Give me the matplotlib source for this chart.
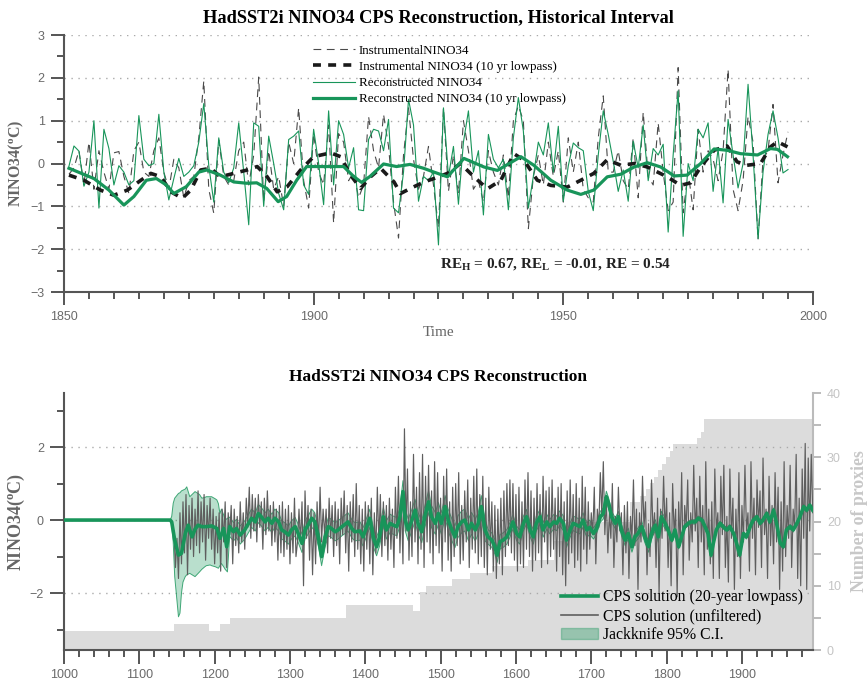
import numpy as np
import matplotlib
matplotlib.use("Agg")
import matplotlib.pyplot as plt
from matplotlib.lines import Line2D
from matplotlib.patches import Patch

plt.rcParams["font.family"] = "Liberation Sans"
plt.rcParams["mathtext.default"] = "regular"

SERIF = "Liberation Serif"
GREEN = "#18955a"
SPINE = "#555555"
TICKLAB = "#6a6a6a"
GRID = "#aaaaaa"

# ---- historical interval (annual values) ----
hist_years = np.arange(1851, 1996)
recon = [
    -0.06, 0.41, 0.29, -0.53, -0.2, 1.0, -1.04, 0.8, 0.35, -0.5,
    -0.05, -0.2, -0.5, -0.4, 1.12, 0.1, -0.05, 0.0, 1.15, -0.2,
    -0.85, -0.35, 0.12, -0.3, -0.2, -0.05, 0.5, 1.4, -0.05, -0.9,
    0.6, -0.2, -0.45, -0.1, 0.95, -0.2, -1.43, 0.95, 0.87, -1.0,
    0.64, 0.0, -0.7, -1.08, 0.56, 0.64, 0.76, -0.5, -0.72, 0.8,
    0.0, -0.96, 1.23, -0.5, 1.0, 0.68, -0.1, 0.37, -1.08, -1.1,
    0.56, 0.8, 0.76, 0.3, 1.03, -1.04, -1.15, -0.2, 1.5, 0.9,
    -0.88, -0.3, -0.4, -0.2, -1.9, 1.3, -0.3, 0.4, -0.95, 0.5,
    1.23, -0.2, 0.3, -1.2, 0.68, 0.1, -0.1, 0.1, -1.08, 0.6,
    1.54, 0.76, -1.04, -0.3, 0.5, 0.2, 0.95, -0.2, 0.87, -0.88,
    -0.05, 0.48, 0.37, 0.3, -0.65, -1.1, 0.2, 1.23, 0.68, 0.05,
    -0.65, -0.15, -0.88, 0.52, -0.1, 0.9, -0.4, 0.35, 0.2, 0.45,
    -1.6, 0.2, 1.7, -1.7, 0.0, -0.4, 0.8, 0.6, 0.95, -0.65,
    0.35, -0.92, 1.03, 0.2, -0.57, 0.0, 1.85, 0.2, -1.75, -0.2,
    0.68, 1.23, 0.6, -0.22, -0.14,
]
instr = [
    -0.25, -0.1, 0.3, -0.5, 0.5, -0.6, 0.3, -0.2, -0.6, 0.25,
    0.28, -0.3, -0.7, 0.3, 0.5, -0.2, -0.3, 0.3, 0.6, -0.2,
    -0.6, 0.1, -0.1, -0.8, -0.4, -0.3, 0.6, 1.93, -0.6, -1.16,
    0.55, -0.3, -0.5, -0.4, 0.3, 0.5, -0.5, 0.2, 2.02, -0.9,
    0.3, -0.6, -0.3, -1.0, 0.5, 0.0, 1.3, -0.4, -1.04, 0.7,
    -0.2, -0.5, 0.9, -1.39, 0.7, 0.5, -0.4, -0.2, -0.8, -0.5,
    1.1, 0.3, -0.1, 1.15, 0.4, -0.9, -1.74, 0.2, 1.3, 0.1,
    -0.6, -0.3, 0.4, -0.5, -1.5, 1.3, -0.65, 0.2, -0.7, 1.0,
    0.3, -0.6, -0.4, -0.9, 0.3, -0.2, -0.5, 0.2, -0.8, 1.0,
    1.35, 1.0, -1.52, -0.3, 0.2, -0.5, 0.5, -0.3, 0.3, -0.9,
    0.6, -0.2, 0.5, -0.6, -0.8, -0.9, 0.6, 1.58, -0.2, -0.2,
    0.3, -0.4, -0.6, 0.6, -0.8, 1.2, -0.3, -0.5, 0.95, -0.2,
    -1.1, -0.9, 2.24, -1.15, -0.2, -1.08, 0.8, -0.2, 0.3, 0.1,
    -0.4, 0.3, 2.2, -0.6, -1.1, -0.4, 1.1, 0.5, -1.78, 0.1,
    0.3, 1.38, -0.45, 0.2, 0.74,
]

recon_lp_years = [
    1851, 1856, 1859, 1862, 1864, 1866.5, 1868.5, 1870.5, 1872, 1874.5,
    1877, 1878.6, 1881.3, 1884, 1886.6, 1888.6, 1890.6, 1892.9, 1894.6, 1896.6,
    1898.6, 1901.3, 1906, 1908, 1909.6, 1911.3, 1914, 1916.6, 1919.3, 1922,
    1924.1, 1926.8, 1930.1, 1934.1, 1936.8, 1941.5, 1944.1, 1947.5, 1950.8, 1953.5,
    1956.1, 1958.8, 1961.5, 1964.2, 1966.8, 1969.5, 1972.2, 1974.8, 1977.5, 1980.2,
    1982.8, 1985.5, 1988.9, 1991.5, 1992.9, 1994.9,
]
recon_lp = [
    -0.11, -0.35, -0.62, -0.97, -0.77, -0.39, -0.35, -0.5, -0.7, -0.54,
    -0.2, -0.15, -0.27, -0.43, -0.46, -0.45, -0.58, -0.89, -0.77, -0.39,
    -0.07, -0.07, -0.07, -0.3, -0.44, -0.3, -0.01, -0.07, -0.02, -0.11,
    -0.2, -0.31, 0.12, -0.08, -0.16, 0.16, -0.04, -0.39, -0.62, -0.72,
    -0.62, -0.31, -0.25, -0.08, 0.02, -0.08, -0.29, -0.27, 0.0, 0.34,
    0.31, 0.23, 0.2, 0.35, 0.33, 0.16,
]
instr_lp_years = [
    1851, 1854, 1857.3, 1860, 1862.7, 1865.4, 1867.4, 1869.4, 1871.4, 1873.7,
    1875.4, 1877.4, 1879.4, 1881.3, 1884, 1886.7, 1888.7, 1890.7, 1892.7, 1894.7,
    1897.4, 1900, 1903.4, 1905.4, 1907.4, 1909.4, 1911.4, 1913.4, 1916.1, 1917.4,
    1919.4, 1922.1, 1924.1, 1926.8, 1929.4, 1932.1, 1934.8, 1937.5, 1940.1, 1942.1,
    1944.8, 1947.5, 1950.8, 1953.5, 1956.1, 1958.8, 1961.5, 1964.2, 1966.8, 1970.8,
    1973.5, 1975.5, 1977.5, 1980.2, 1982.8, 1984.8, 1986.8, 1989.5, 1991.5, 1992.9,
    1994.9,
]
instr_lp = [
    -0.27, -0.39, -0.62, -0.74, -0.62, -0.39, -0.23, -0.31, -0.66, -0.81,
    -0.62, -0.15, -0.11, -0.31, -0.23, -0.15, -0.07, -0.31, -0.66, -0.54,
    -0.15, 0.16, 0.25, 0.16, -0.27, -0.58, -0.31, -0.11, -0.43, -0.7,
    -0.58, -0.43, -0.35, -0.23, 0.0, -0.31, -0.59, -0.39, 0.23, 0.08,
    -0.39, -0.51, -0.55, -0.39, -0.23, 0.09, -0.04, 0.0, -0.08, -0.31,
    -0.51, -0.45, -0.08, 0.31, 0.41, 0.04, -0.04, 0.0, 0.39, 0.51,
    0.39,
]

# ---- full reconstruction ----
cps_lp_years = [
    1000, 1141, 1143, 1147, 1152, 1156, 1161, 1165, 1170, 1174,
    1178, 1183, 1189, 1196, 1203, 1207, 1212, 1216, 1220, 1225,
    1229, 1234, 1240, 1245, 1249, 1254, 1258, 1262, 1267, 1271,
    1276, 1280, 1285, 1289, 1293, 1298, 1302, 1307, 1311, 1316,
    1320, 1324, 1329, 1333, 1338, 1342, 1347, 1351, 1355, 1360,
    1364, 1369, 1373, 1377, 1382, 1386, 1393, 1397, 1402, 1406,
    1411, 1415, 1419, 1424, 1428, 1433, 1437, 1442, 1446, 1450,
    1453, 1457, 1462, 1466, 1470, 1475, 1479, 1484, 1488, 1493,
    1497, 1501, 1506, 1510, 1515, 1519, 1523, 1528, 1532, 1537,
    1541, 1546, 1550, 1554, 1559, 1563, 1568, 1572, 1575, 1579,
    1583, 1588, 1592, 1596, 1601, 1605, 1610, 1614, 1619, 1623,
    1627, 1632, 1636, 1641, 1645, 1650, 1654, 1658, 1663, 1667,
    1672, 1676, 1681, 1685, 1689, 1694, 1698, 1703, 1707, 1712,
    1716, 1720, 1723, 1727, 1732, 1736, 1740, 1745, 1749, 1754,
    1758, 1762, 1767, 1771, 1776, 1780, 1785, 1789, 1793, 1798,
    1802, 1807, 1811, 1816, 1820, 1824, 1829, 1833, 1838, 1842,
    1847, 1851, 1855, 1859, 1862, 1866, 1871, 1875, 1880, 1884,
    1889, 1893, 1897, 1902, 1906, 1911, 1915, 1920, 1924, 1928,
    1933, 1937, 1942, 1946, 1951, 1955, 1959, 1964, 1968, 1973,
    1977, 1982, 1986, 1990, 1994,
]
cps_lp = [
    0, 0, -0.05, -0.55, -0.96, -0.91, -0.37, -0.14, -0.46, -0.25,
    -0.14, -0.18, -0.18, -0.16, -0.23, -0.5, -0.23, -0.73, -0.18, -0.32,
    -0.23, -0.41, -0.27, -0.09, 0.05, -0.05, 0.18, 0.09, -0.05, 0.05,
    -0.09, 0.05, -0.05, -0.27, -0.32, -0.41, -0.27, -0.18, -0.37, -0.64,
    -0.27, -0.14, 0.05, -0.05, -0.5, -1.0, -0.46, -0.18, -0.23, -0.32,
    -0.27, -0.18, -0.12, -0.05, -0.23, -0.32, -0.3, -0.46, -0.18, 0.05,
    -0.5, -0.73, -0.46, 0.09, -0.27, -0.09, -0.14, -0.18, 0.09, 0.78,
    0.0, -0.27, 0.0, 0.27, -0.09, -0.32, 0.09, 0.5, 0.09, -0.09,
    0.18, -0.09, 0.37, 0.0, -0.27, -0.46, -0.18, -0.05, 0.0, -0.27,
    -0.09, -0.27, -0.09, 0.37, -0.27, -0.46, -0.55, -0.73, -0.96, -0.59,
    -0.55, -0.46, -0.27, -0.05, -0.37, -0.46, -0.09, 0.09, -0.27, -0.46,
    -0.09, 0.09, -0.27, -0.05, -0.18, -0.05, -0.09, 0.05, -0.09, -0.55,
    -0.27, -0.09, -0.14, -0.18, 0.0, -0.27, -0.2, -0.37, -0.23, 0.09,
    0.18, 0.64, 0.46, 0.09, -0.09, 0.09, -0.27, -0.55, -0.37, -0.73,
    -0.46, -0.37, -0.18, -0.46, -0.73, -0.37, -0.14, -0.46, 0.09, -0.09,
    -0.27, -0.55, -0.27, -0.73, -0.46, -0.18, -0.09, -0.05, -0.05, 0.05,
    0.0, -0.18, -0.37, -0.96, -0.64, -0.27, -0.09, -0.18, -0.27, -0.18,
    -0.37, -0.64, -0.96, -0.37, -0.46, -0.18, 0.0, 0.09, -0.09, 0.0,
    0.18, -0.05, 0.27, -0.09, -0.64, -0.73, -0.27, -0.18, -0.27, -0.09,
    0.09, 0.37, 0.27, 0.41, 0.27,
]

# unfiltered solution, every second year from 1146 to 1994
cps_raw_years = np.arange(1146, 1995, 2)
cps_raw = [
    -0.3, -1.3, -0.5, -1.6, 0.2, -1.2, 0.5, -0.9, 0.7, -1.5, 0.4, -0.8, 0.6, -1.0, 0.3, -0.7, 0.8, -0.9, 0.5, -0.6, 0.7, -1.1, 0.4, -0.5, 0.6,
    -0.8, 0.3, -1.2, 0.1, -0.9, 0.2, -1.4, 0.3, -0.6, 0.5, -1.3, 0.2, -0.4, 0.4, -1.2, 0.3, -0.7, 0.1, -0.9, 0.5, -0.6, 0.2, -0.8, 0.6, -0.2,
    0.9, -0.5, 0.7, -0.3, 0.6, -0.6, 0.7, -0.2, 0.5, -0.8, 0.6, -0.4, 0.8, -0.3, 0.4, -0.7, 0.5, -0.6, 0.3, -1.1, 0.4, -0.9, 0.5, -1.0, 0.3,
    -0.8, 0.4, -1.2, 0.2, -0.9, 0.6, -1.0, -0.6, 0.3, -0.6, 0.5, -1.8, 0.8, -0.5, 0.4, -1.1, 0.3, -1.5, 0.2, -1.2, 0.5, -0.7, 0.9, -0.6, 0.3,
    -0.4, 0.3, -0.9, 0.6, -0.5, 0.4, -1.0, 0.5, -0.7, 0.3, -1.2, 0.6, -0.4, 0.8, -0.9, 0.4, -1.4, 0.5, -0.6, 0.7, -1.0, 1.0, -0.8, 0.4, -1.2,
    0.3, -1.4, 0.5, -0.8, 0.4, -1.2, 0.6, -1.5, 0.2, -0.9, 0.9, -0.6, 0.7, -1.0, 0.5, -0.7, 0.4, -1.1, 0.6, -0.8, 0.3, -1.3, 0.9, -0.5, 1.2,
    -0.9, 0.6, -1.2, 2.5, -0.3, 1.4, -1.1, 0.5, -1.0, 1.8, -0.6, 0.9, -1.2, 1.3, -0.8, 1.8, -1.3, 1.2, -0.6, 1.5, -0.9, 0.8, -1.2, 1.6, -0.7,
    1.3, -0.9, 0.6, -1.4, 1.2, -0.6, 1.4, -1.1, 0.5, -1.4, 0.9, -1.0, 1.0, -0.7, 1.3, -1.2, 0.4, -1.1, 0.8, -0.6, 1.1, -1.3, 0.6, -0.8, 1.2,
    -0.9, 1.4, -1.2, 0.7, -1.0, 1.2, -1.3, 0.6, -1.5, 0.9, -0.8, 0.5, -1.4, 0.4, -1.6, 0.3, -1.2, 0.6, -1.5, 0.8, -1.0, 1.0, -0.7, 1.1, -0.9,
    1.0, -1.1, 0.7, -1.4, 0.9, -1.2, 0.5, -1.3, 1.1, -0.8, 1.3, -1.0, 0.8, -1.4, 0.6, -1.1, 1.0, -0.9, 0.7, -1.3, 1.2, -0.6, 0.8, -1.2, 0.9,
    -1.0, 1.1, -0.8, 0.6, -1.4, 0.9, -1.0, 1.0, -1.5, 0.5, -1.8, 0.8, -1.2, 1.1, -0.9, 0.7, -1.3, 1.0, -1.1, 0.6, -1.4, 1.2, -0.8, 0.9, -1.2,
    0.5, -0.8, 0.2, -0.4, 0.9, -1.2, 0.3, -0.2, 1.3, 0.1, 1.6, -0.4, 0.6, -0.9, 0.2, -0.5, 1.0, -1.3, 0.1, -0.6, 0.9, -0.3, 0.2, -1.5, 0.4,
    -0.9, 0.5, -1.6, 0.1, -0.5, 1.1, -0.7, 0.3, -1.9, 0.2, -0.6, 1.2, -0.2, 0.5, -1.5, -0.1, -1.0, 1.1, -0.4, 0.2, -1.3, 0.6, -2.0, 0.3, -0.5,
    1.2, -0.3, 0.6, -1.3, 0.2, -1.8, 1.0, -0.4, 0.3, -2.1, 0.5, -0.7, 1.3, -1.5, 0.4, -0.2, 1.1, -1.1, 0.2, -0.6, 1.5, -0.3, 0.6, -1.3, 1.2,
    -0.6, 0.4, -1.5, 1.6, -0.8, 0.3, -1.2, 0.5, -1.6, 1.4, -0.3, 0.2, -1.6, 1.2, -0.4, 1.5, -1.3, 0.1, -1.7, 1.4, -0.5, 0.6, -1.9, 0.3, -1.0,
    1.3, -1.6, 0.4, -0.6, 1.5, -0.3, 0.2, -1.4, 1.6, -0.5, 0.6, -1.5, 1.1, -0.2, 0.8, -1.3, 1.7, -0.4, 0.3, -1.6, 1.2, -0.7, 0.4, -1.2, 1.3,
    -0.6, 0.9, -1.9, 0.5, -1.4, 1.6, -1.0, 0.4, -0.5, 1.5, -1.3, 0.3, -0.2, 1.8, -1.6, 0.6, -1.8, 1.4, -0.5, 2.1, -1.9, 1.7, -0.3, 1.8, 0.2,
]

# jackknife interval: explicit bounds where it is wide, half-widths by period afterwards
ci_early_years = [1141, 1143, 1145, 1147, 1152, 1154, 1156, 1158, 1161, 1163,
                  1167, 1174, 1180, 1183, 1187, 1189, 1194, 1196, 1201, 1203,
                  1205, 1207, 1209, 1212, 1214, 1217, 1220]
ci_early_hi = [0, 0.1, 0.46, 0.6, 0.73, 0.75, 0.8, 0.82, 0.85, 0.91,
               0.64, 0.78, 0.7, 0.6, 0.62, 0.64, 0.64, 0.64, 0.58, 0.55,
               0.45, 0.18, 0.3, 0.14, 0.0, 0.05, 0.08]
ci_early_lo = [0, -0.1, -0.6, -1.55, -2.65, -2.55, -2.0, -1.7, -1.55, -1.5,
               -1.46, -1.55, -1.42, -1.35, -1.28, -1.25, -1.23, -1.25, -1.28, -1.3,
               -1.32, -1.25, -1.19, -1.28, -1.35, -1.42, -0.45]
ci_period_start = [1220, 1450, 1560, 1700, 1800]
ci_half_width = [0.25, 0.3, 0.2, 0.15, 0.06]

# number of proxies available (step changes)
proxy_years = [1000, 1146, 1192, 1207, 1221, 1375, 1464, 1472, 1480, 1515,
               1539, 1568, 1616, 1650, 1668, 1751, 1765, 1772, 1778, 1783,
               1789, 1794, 1799, 1804, 1808, 1840, 1845, 1850, 1995]
proxy_counts = [3, 4, 3, 4, 5, 7, 6, 9, 10, 11,
                12, 13, 14, 17, 20, 23, 24, 25, 26, 27,
                28, 29, 30, 31, 32, 33, 34, 36, 36]


def style_axes(ax, major_len):
    for s in ["top", "right"]:
        ax.spines[s].set_visible(False)
    for s in ["left", "bottom"]:
        ax.spines[s].set_color(SPINE)
        ax.spines[s].set_linewidth(1.5)
    ax.tick_params(which="major", direction="out", length=major_len, width=1.4,
                   color=SPINE, labelcolor=TICKLAB, labelsize=9, pad=4.5)
    ax.tick_params(which="minor", direction="out", length=5, width=1.4, color=SPINE)
    ax.yaxis.grid(True, which="major", color=GRID, linestyle=(0, (1, 4)), linewidth=1)
    ax.set_axisbelow(True)


fig = plt.figure(figsize=(8.68, 6.82), dpi=100)

# ---------------- top: historical interval ----------------
ax1 = fig.add_axes([0.0737, 0.5718, 0.8629, 0.3768])
ax1.plot(hist_years, instr, color="#4a4a4a", lw=0.8, dashes=(7, 5), zorder=2,
         label="InstrumentalNINO34")
ax1.plot(hist_years, recon, color=GREEN, lw=0.8, zorder=3, label="Reconstructed NINO34")
ax1.plot(instr_lp_years, instr_lp, color="#1a1a1a", lw=2.6, dashes=(2.2, 2), zorder=4,
         label="Instrumental NINO34 (10 yr lowpass)")
ax1.plot(recon_lp_years, recon_lp, color=GREEN, lw=2.3, zorder=5,
         label="Reconstructed NINO34 (10 yr lowpass)")

ax1.set_xlim(1850, 2000)
ax1.set_ylim(-3, 3)
ax1.set_xticks([1850, 1900, 1950, 2000])
ax1.set_xticks(np.arange(1850, 2001, 5), minor=True)
ax1.set_yticks(np.arange(-3, 4, 1))
ax1.set_yticks(np.arange(-3, 3.01, 0.5), minor=True)
style_axes(ax1, 9.4)

ax1.set_title("HadSST2i NINO34 CPS Reconstruction, Historical Interval",
              fontfamily=SERIF, fontweight="bold", fontsize=13.2, pad=9)
ax1.set_xlabel("Time", fontfamily=SERIF, fontsize=11, color="#666666", labelpad=2)
ax1.set_ylabel(r"NINO34($^{o}$C)", fontfamily=SERIF, fontweight="bold",
               fontsize=11.5, color="#666666")
ax1.yaxis.set_label_coords(-0.051, 0.5)

h = ax1.get_legend_handles_labels()[0]
order = [0, 2, 1, 3]
ax1.legend([h[i] for i in order],
           ["InstrumentalNINO34", "Instrumental NINO34 (10 yr lowpass)",
            "Reconstructed NINO34", "Reconstructed NINO34 (10 yr lowpass)"],
           loc="upper left", bbox_to_anchor=(0.333, 0.962), frameon=False,
           prop={"family": SERIF, "size": 9.4}, handlelength=3.2, handletextpad=0.3,
           labelspacing=0.3, borderpad=0, borderaxespad=0)

ax1.text(1925.3, -2.35, r"RE$_{H}$ = 0.67, RE$_{L}$ = -0.01, RE = 0.54",
         fontfamily=SERIF, fontweight="bold", fontsize=11, va="center", ha="left",
         color="#222222")

# ---------------- bottom: full reconstruction ----------------
ax2 = fig.add_axes([0.0737, 0.0469, 0.8629, 0.3768])
axp = ax2.twinx()

axp.fill_between(proxy_years, proxy_counts, step="post", color="#dcdcdc", lw=0)
axp.set_ylim(0, 40)
axp.set_yticks([0, 10, 20, 30, 40])
axp.set_yticks([5, 15, 25, 35], minor=True)
for s in ["top", "left", "bottom"]:
    axp.spines[s].set_visible(False)
axp.spines["right"].set_color("#bbbbbb")
axp.spines["right"].set_linewidth(1.5)
axp.tick_params(which="both", direction="out", length=6, width=1.4, color="#bbbbbb",
                labelcolor="#c4c4c4", labelsize=9, pad=4)
axp.set_ylabel("Number of proxies", fontfamily=SERIF, fontweight="bold", fontsize=12.8,
               color="#c8c8c8", rotation=90)
axp.yaxis.set_label_coords(1.051, 0.5)

ax2.set_zorder(axp.get_zorder() + 1)
ax2.patch.set_visible(False)

lp_y = np.array(cps_lp_years, dtype=float)
lp_v = np.array(cps_lp)
late = lp_y > 1220
half = np.array(ci_half_width)[np.searchsorted(ci_period_start, lp_y[late], side="right") - 1]
band_x = np.concatenate([ci_early_years, lp_y[late]])
band_hi = np.concatenate([ci_early_hi, lp_v[late] + half])
band_lo = np.concatenate([ci_early_lo, lp_v[late] - half])

ax2.fill_between(band_x, band_lo, band_hi, facecolor=GREEN, alpha=0.3, lw=0, zorder=2)
ax2.plot(band_x, band_hi, color=GREEN, lw=0.7, alpha=0.8, zorder=2)
ax2.plot(band_x, band_lo, color=GREEN, lw=0.7, alpha=0.8, zorder=2)
ax2.plot(cps_raw_years, cps_raw, color="#5e5e5e", lw=0.85, zorder=3)
ax2.plot(lp_y, lp_v, color=GREEN, lw=2.6, zorder=4)

ax2.set_xlim(1000, 1994.3)
ax2.set_ylim(-3.56, 3.48)
ax2.set_xticks(np.arange(1000, 1901, 100))
ax2.set_xticks(np.arange(1000, 1990, 20), minor=True)
ax2.set_yticks([-2, 0, 2])
ax2.set_yticks([-3, -1, 1, 3], minor=True)
style_axes(ax2, 10)
ax2.tick_params(axis="x", which="major", pad=3.5)

ax2.set_title("HadSST2i NINO34 CPS Reconstruction", fontfamily=SERIF,
              fontweight="bold", fontsize=12.5, pad=9)
ax2.set_ylabel(r"NINO34($^{o}$C)", fontfamily=SERIF, fontweight="bold",
               fontsize=13, color="#666666")
ax2.yaxis.set_label_coords(-0.05, 0.5)

handles = [
    Line2D([], [], color=GREEN, lw=2.6),
    Line2D([], [], color="#5e5e5e", lw=1.2),
    Patch(facecolor=GREEN, alpha=0.35, edgecolor=GREEN),
]
ax2.legend(handles, ["CPS solution (20-year lowpass)", "CPS solution (unfiltered)",
                     "Jackknife 95% C.I."],
           loc="upper left", bbox_to_anchor=(0.663, 0.237), frameon=False,
           prop={"family": SERIF, "size": 11.3}, handlelength=2.4, handletextpad=0.3,
           labelspacing=0.2, borderpad=0, borderaxespad=0)

fig.savefig("out.png", dpi=100)
